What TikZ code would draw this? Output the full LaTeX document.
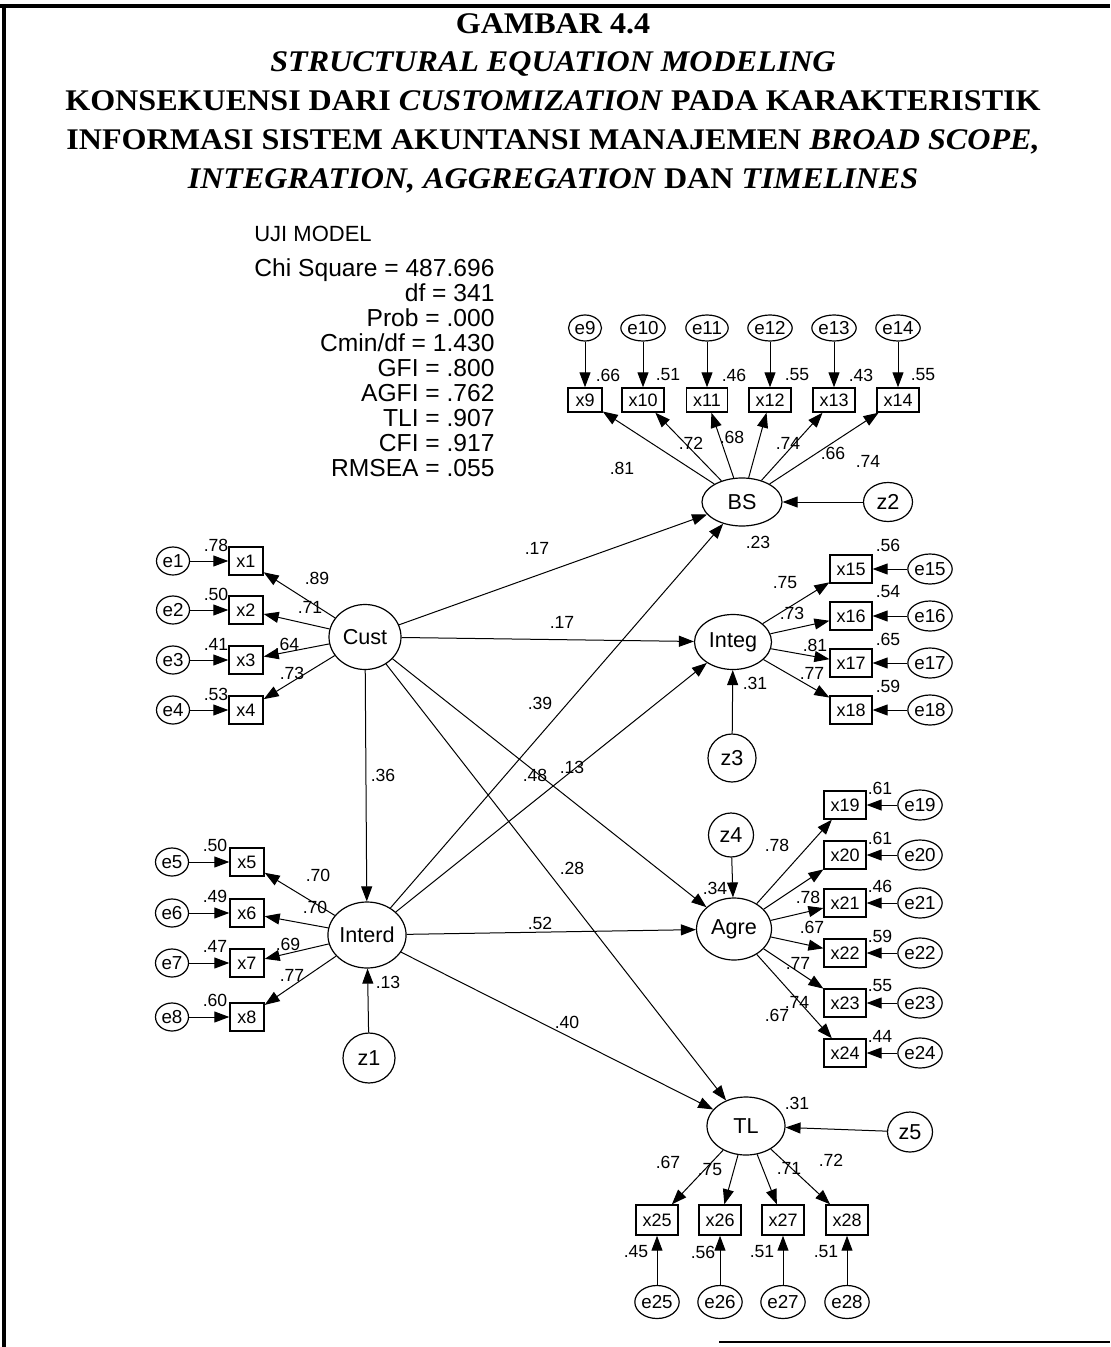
\documentclass[tikz,border=0pt]{standalone}
\usepackage{fontspec}
\setmainfont{Liberation Sans}
\newfontfamily\judulfont[FakeStretch=1.07]{Liberation Serif}
\usepackage{tikz}
\usetikzlibrary{arrows.meta,shapes.geometric,positioning}

\begin{document}
\begin{tikzpicture}[
    x=0.5pt, y=-0.5pt,
    >={Triangle[length=7.5pt,width=5.5pt]},
    line width=0.5pt,
    every node/.style={font=\fontsize{8.8}{10}\selectfont},
    lat/.style={draw,ellipse,line width=0.6pt,inner sep=0pt,font=\fontsize{10.8}{12}\selectfont},
    obs/.style={draw,rectangle,line width=0.7pt,minimum width=17pt,minimum height=14pt,inner xsep=3.2pt,inner ysep=0pt,font=\fontsize{9}{10}\selectfont},
    err/.style={draw,ellipse,line width=0.6pt,minimum width=16.5pt,minimum height=14pt,inner sep=0pt,font=\fontsize{9.4}{10}\selectfont},
    lbl/.style={inner sep=0pt}
]
\useasboundingbox (0,0) rectangle (1110,1347);

%------------------------------------------------
% Bingkai dan judul
%------------------------------------------------
\draw[line width=2.4pt] (0,6) -- (1110,6);
\draw[line width=2.4pt] (4,6) -- (4,1347);
\draw[line width=1pt] (719,1342) -- (1110,1342);

\foreach \y/\nama/\teks in {
34/judA/{GAMBAR 4.4},
72/judB/{\textit{STRUCTURAL EQUATION MODELING}},
111/judC/{KONSEKUENSI DARI \textit{CUSTOMIZATION} PADA KARAKTERISTIK},
150/judD/{INFORMASI SISTEM AKUNTANSI MANAJEMEN \textit{BROAD SCOPE,}},
189/judE/{\textit{INTEGRATION, AGGREGATION} DAN \textit{TIMELINES}}}
{
    \node[anchor=base,font={\fontsize{15}{16}\judulfont\bfseries}] (\nama) at (553,\y) {\teks};
}

\node[font=\fontsize{11}{12}\selectfont] (ujimodel) at (313,234) {UJI MODEL};
\node[align=right,anchor=east,inner sep=0pt,font=\fontsize{12.3}{12.5}\selectfont] (fit) at (495,368)
{Chi Square = 487.696\\ df = 341\\ Prob = .000\\ Cmin/df = 1.430\\ GFI = .800\\ AGFI = .762\\ TLI = .907\\ CFI = .917\\ RMSEA = .055};

%------------------------------------------------
% Variabel laten
%------------------------------------------------
\node[lat,minimum width=36pt,minimum height=32.5pt] (Cust) at (365,637) {Cust};
\node[lat,minimum width=36.5pt,minimum height=33pt] (Interd) at (367,935) {Interd};
\node[lat,minimum width=40pt,minimum height=24pt] (BS) at (742,502) {BS};
\node[lat,minimum width=38.5pt,minimum height=27.5pt] (Integ) at (733,642) {Integ};
\node[lat,minimum width=37.5pt,minimum height=31pt] (Agre) at (734,929) {Agre};
\node[lat,minimum width=39pt,minimum height=29pt] (TL) at (746,1126) {TL};

\node[lat,minimum width=26pt,minimum height=25pt] (z1) at (369,1058) {z1};
\node[lat,minimum width=24.5pt,minimum height=19.5pt] (z2) at (888,502) {z2};
\node[lat,minimum width=24pt,minimum height=24pt] (z3) at (732,758) {z3};
\node[lat,minimum width=22.5pt,minimum height=22pt] (z4) at (731,835) {z4};
\node[lat,minimum width=22.5pt,minimum height=20pt] (z5) at (910,1132) {z5};

\draw[->] (z1) -- (Interd);
\draw[->] (z2) -- (BS);
\draw[->] (z3) -- (Integ);
\draw[->] (z4) -- (Agre);
\draw[->] (z5) -- (TL);

%------------------------------------------------
% Indikator Cust dan Interd (kiri)
%------------------------------------------------
\foreach \i/\y/\rs/\lx/\ly/\ld in {
1/561/.78/317/578/.89, 2/610/.50/310/607/.71,
3/660/.41/287/644/.64, 4/710/.53/292/673/.73}
{
    \node[obs] (x\i) at (246,\y) {x\i};
    \node[err] (e\i) at (173,\y) {e\i};
    \draw[->] (e\i) -- (x\i);
    \draw[->] (Cust) -- (x\i);
    \node[lbl] (r\i) at (216,\y-16) {\rs};
    \node[lbl] (w\i) at (\lx,\ly) {\ld};
}
\foreach \i/\y/\rs/\lx/\ly/\ld in {
5/862/.50/318/875/.70, 6/913/.49/315/907/.70,
7/963/.47/288/944/.69, 8/1017/.60/292/975/.77}
{
    \node[obs] (x\i) at (247,\y) {x\i};
    \node[err] (e\i) at (172,\y) {e\i};
    \draw[->] (e\i) -- (x\i);
    \draw[->] (Interd) -- (x\i);
    \node[lbl] (r\i) at (215,\y-17) {\rs};
    \node[lbl] (w\i) at (\lx,\ly) {\ld};
}

%------------------------------------------------
% Indikator BS (atas)
%------------------------------------------------
\foreach \i/\x/\rx/\rs/\lx/\ly/\ld in {
9/585/608/.66/622/468/.81, 10/643/668/.51/691/443/.72,
11/707/734/.46/732/437/.68, 12/770/797/.55/788/443/.74,
13/834/861/.43/833/453/.66, 14/898/923/.55/868/461/.74}
{
    \node[obs,minimum height=12pt] (x\i) at (\x,400) {x\i};
    \node[err,minimum height=13pt] (e\i) at (\x,328) {e\i};
    \draw[->] (e\i) -- (x\i);
    \draw[->] (BS) -- (x\i);
    \node[lbl] (r\i) at (\rx,375) {\rs};
    \node[lbl] (w\i) at (\lx,\ly) {\ld};
}

%------------------------------------------------
% Indikator Integ dan Agre (kanan)
%------------------------------------------------
\foreach \i/\y/\rs/\lx/\ly/\ld in {
15/569/.56/785/583/.75, 16/616/.54/792/613/.73,
17/663/.65/815/645/.81, 18/710/.59/812/673/.77}
{
    \node[obs] (x\i) at (851,\y) {x\i};
    \node[err,minimum width=16pt,minimum height=15pt] (e\i) at (930,\y) {e\i};
    \draw[->] (e\i) -- (x\i);
    \draw[->] (Integ) -- (x\i);
    \node[lbl] (r\i) at (888,\y-24) {\rs};
    \node[lbl] (w\i) at (\lx,\ly) {\ld};
}
\foreach \i/\y/\rs/\lx/\ly/\ld in {
19/805/.61/777/845/.78, 20/855/.61/808/897/.78,
21/903/.46/812/927/.67, 22/953/.59/798/963/.77,
23/1003/.55/797/1002/.74, 24/1053/.44/777/1015/.67}
{
    \node[obs] (x\i) at (845,\y) {x\i};
    \node[err,minimum width=15.5pt,minimum height=15pt] (e\i) at (920,\y) {e\i};
    \draw[->] (e\i) -- (x\i);
    \draw[->] (Agre) -- (x\i);
    \node[lbl] (r\i) at (880,\y-17) {\rs};
    \node[lbl] (w\i) at (\lx,\ly) {\ld};
}

%------------------------------------------------
% Indikator TL (bawah)
%------------------------------------------------
\foreach \i/\x/\rx/\rs/\lx/\ly/\ld in {
25/657/636/.45/668/1162/.67, 26/720/703/.56/710/1170/.75,
27/783/762/.51/789/1168/.71, 28/847/826/.51/831/1160/.72}
{
    \node[obs,minimum height=15pt] (x\i) at (\x,1220) {x\i};
    \node[err,minimum width=19pt,minimum height=16.5pt] (e\i) at (\x,1302) {e\i};
    \draw[->] (e\i) -- (x\i);
    \draw[->] (TL) -- (x\i);
    \node[lbl] (r\i) at (\rx,1252) {\rs};
    \node[lbl] (w\i) at (\lx,\ly) {\ld};
}

%------------------------------------------------
% Jalur struktural
%------------------------------------------------
\foreach \dari/\ke/\lx/\ly/\ld in {
Cust/BS/537/548/.17, Cust/Integ/562/622/.17,
Interd/BS/540/703/.39, Interd/Integ/572/767/.13,
Cust/Agre/535/775/.48, Cust/TL/572/868/.28,
Interd/Agre/540/923/.52, Interd/TL/567/1022/.40,
Cust/Interd/383/775/.36}
{
    \draw[->] (\dari) -- (\ke);
    \node[lbl] (p\dari\ke) at (\lx,\ly) {\ld};
}

% koefisien determinasi
\node[lbl] (rBS) at (758,542) {.23};
\node[lbl] (rInteg) at (755,683) {.31};
\node[lbl] (rAgre) at (715,888) {.34};
\node[lbl] (rTL) at (797,1103) {.31};
\node[lbl] (rInterd) at (388,982) {.13};

\end{tikzpicture}
\end{document}
